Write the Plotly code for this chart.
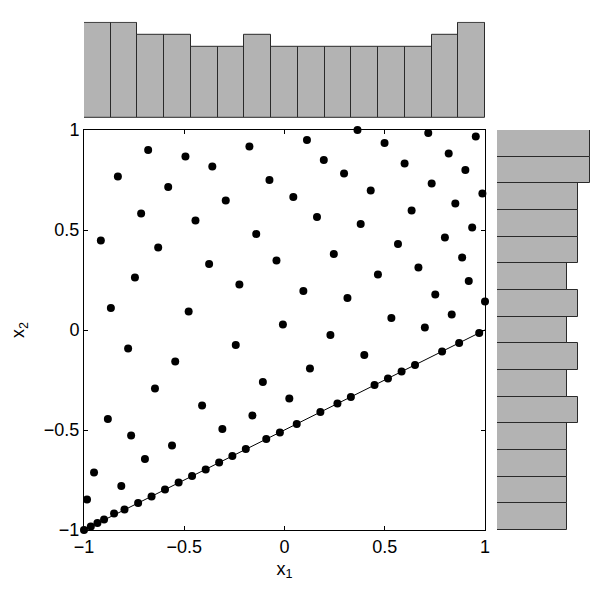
import plotly.graph_objects as go

# scatter points
x1_line = [-1.00, -0.966, -0.933, -0.90, -0.85, -0.798, -0.73, -0.663, -0.596, -0.528,
           -0.461, -0.393, -0.326, -0.26, -0.193, -0.091, -0.023, 0.061, 0.179, 0.264,
           0.331, 0.449, 0.516, 0.584, 0.651, 0.786, 0.871, 0.971]
x2_line = [-1.00, -0.982, -0.965, -0.948, -0.918, -0.898, -0.865, -0.832, -0.798, -0.763,
           -0.73, -0.697, -0.663, -0.63, -0.595, -0.545, -0.512, -0.47, -0.41, -0.368,
           -0.335, -0.275, -0.242, -0.208, -0.175, -0.107, -0.065, -0.015]

x1_free = [-0.68, -0.494, -0.175, -0.36, -0.831, -0.075, -0.58, -0.293, -0.715, -0.444,
           -0.141, -0.916, -0.63, -0.376, -0.04, -0.746, -0.225, -0.866, -0.478, -0.008,
           0.364, 0.717, 0.954, 0.112, 0.499, 0.819, 0.196, 0.599, 0.902, 0.297,
           0.734, 0.43, 0.987, 0.044, 0.852, 0.634, 0.162, 0.38, 0.936, 0.80,
           0.566, 0.246, 0.886, 0.668, 0.466, 0.919, 0.094, 0.314, 0.752, 1.00,
           0.834, 0.533, 0.70,
           -0.243, -0.78, -0.545, -0.108, -0.646, 0.024, -0.411, -0.881, -0.16, -0.31,
           -0.765, -0.561, -0.696, -0.95, -0.814, -0.985,
           0.229, 0.127, 0.398]
x2_free = [0.90, 0.867, 0.917, 0.817, 0.767, 0.75, 0.715, 0.648, 0.582, 0.548,
           0.48, 0.447, 0.413, 0.33, 0.347, 0.262, 0.228, 0.11, 0.093, 0.027,
           1.00, 0.985, 0.968, 0.95, 0.935, 0.883, 0.85, 0.833, 0.80, 0.783,
           0.733, 0.698, 0.683, 0.665, 0.632, 0.598, 0.565, 0.53, 0.513, 0.463,
           0.43, 0.38, 0.363, 0.312, 0.278, 0.245, 0.195, 0.16, 0.177, 0.143,
           0.077, 0.06, 0.012,
           -0.075, -0.092, -0.158, -0.26, -0.293, -0.343, -0.377, -0.445, -0.428, -0.495,
           -0.528, -0.578, -0.645, -0.713, -0.78, -0.848,
           -0.025, -0.193, -0.125]

# boundary line
bound_x = [-1, 1]
bound_y = [-1, 0]

# marginal histogram counts (15 bins over [-1, 1])
bin_centers = [-1 + (i + 0.5) * 2 / 15 for i in range(15)]
x1_counts = [8, 8, 7, 7, 6, 6, 7, 6, 6, 6, 6, 6, 6, 7, 8]
x2_counts = [6, 6, 6, 6, 7, 6, 7, 6, 7, 6, 7, 7, 7, 8, 8]

tick_vals = [-1, -0.5, 0, 0.5, 1]
tick_text = ["\u22121", "\u22120.5", "0", "0.5", "1"]

W, H = 592, 593
def px(a, b):  # horizontal pixel range -> paper domain
    return [a / W, b / W]
def py(top, bot):  # vertical pixel range -> paper domain
    return [1 - bot / H, 1 - top / H]

bar_color = "#b3b3b3"
edge = dict(color="#2a2a2a", width=1)

fig = go.Figure()

fig.add_trace(go.Scatter(x=bound_x, y=bound_y, mode="lines",
                         line=dict(color="black", width=1),
                         xaxis="x", yaxis="y", showlegend=False))
fig.add_trace(go.Scatter(x=x1_line + x1_free, y=x2_line + x2_free, mode="markers",
                         marker=dict(color="black", size=8),
                         cliponaxis=False, xaxis="x", yaxis="y", showlegend=False))

fig.add_trace(go.Bar(x=bin_centers, y=x1_counts, width=2 / 15,
                     marker=dict(color=bar_color, line=edge),
                     xaxis="x2", yaxis="y2", showlegend=False))
fig.add_trace(go.Bar(y=bin_centers, x=x2_counts, width=2 / 15, orientation="h",
                     marker=dict(color=bar_color, line=edge),
                     xaxis="x3", yaxis="y3", showlegend=False))

font = dict(family="Liberation Sans, Arial, Helvetica, sans-serif", size=18, color="black")
main_ax = dict(range=[-1, 1], tickvals=tick_vals, ticktext=tick_text,
               ticks="inside", ticklen=4, tickcolor="black", showline=True,
               linecolor="black", linewidth=1, mirror="ticks", showgrid=False,
               zeroline=False, tickfont=font, automargin=False)

fig.update_layout(
    width=W, height=H,
    margin=dict(l=0, r=0, t=0, b=0),
    paper_bgcolor="white", plot_bgcolor="white",
    font=font,
    bargap=0,
    xaxis=dict(main_ax, domain=px(84, 485), anchor="y",
               title=dict(text="x<sub>1</sub>", font=font, standoff=6)),
    yaxis=dict(main_ax, domain=py(130, 530), anchor="x",
               title=dict(text="x<sub>2</sub>", font=font, standoff=14)),
    xaxis2=dict(domain=px(84, 485), range=[-1, 1], visible=False, anchor="y2"),
    yaxis2=dict(domain=py(21.8, 118), range=[0, 8.1], visible=False, anchor="x2"),
    xaxis3=dict(domain=px(497, 591.2), range=[0, 8.1], visible=False, anchor="y3"),
    yaxis3=dict(domain=py(130, 530), range=[-1, 1], visible=False, anchor="x3"),
)

# drop the default page margin so the figure sits at the window origin
fig.write_html("out.html", config={"displayModeBar": False},
               post_script="document.body.style.margin='0';")
